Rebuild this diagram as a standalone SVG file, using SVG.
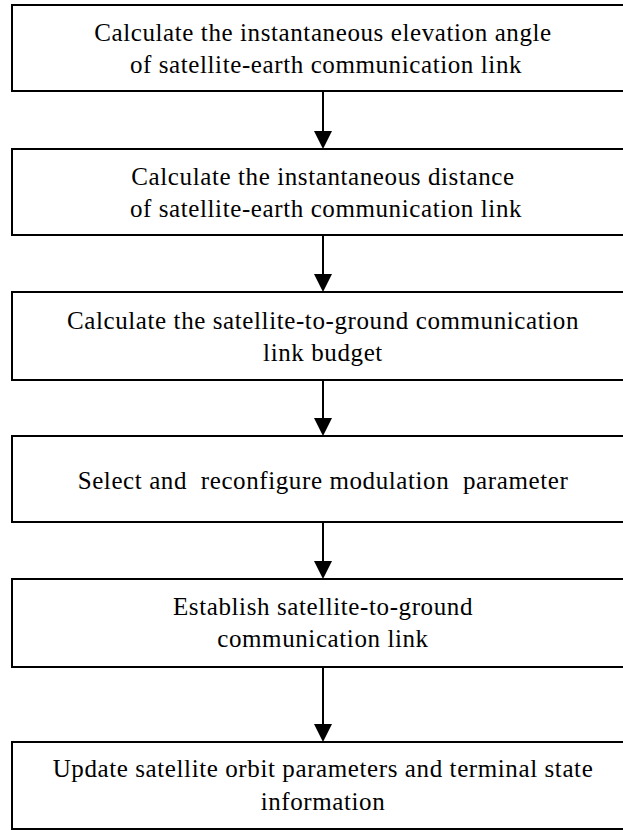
<svg xmlns="http://www.w3.org/2000/svg" width="623" height="830" viewBox="0 0 623 830">
<style>
.box{fill:#fff;stroke:#000;stroke-width:2}
.lbl{font-family:"Liberation Serif","Times New Roman",serif;font-size:25px;letter-spacing:0.6px;fill:#000;text-anchor:middle;white-space:pre}
.conn{stroke:#000;stroke-width:2;fill:none;marker-end:url(#ah)}
</style>
<defs>
<marker id="ah" markerUnits="userSpaceOnUse" markerWidth="18" markerHeight="18" refX="0" refY="9" orient="auto" viewBox="0 0 18 18">
<path d="M0,0 L18,9 L0,18 z" fill="#000"/>
</marker>
</defs>
<rect width="623" height="830" fill="#fff"/>
<g id="n1"><rect class="box" x="12" y="5" width="622" height="86"/>
<text class="lbl" x="323" y="41">Calculate the instantaneous elevation angle</text>
<text class="lbl" x="326" y="73">of satellite-earth communication link</text></g>
<g id="n2"><rect class="box" x="12" y="149" width="622" height="86"/>
<text class="lbl" x="323" y="185">Calculate the instantaneous distance</text>
<text class="lbl" x="326" y="217">of satellite-earth communication link</text></g>
<g id="n3"><rect class="box" x="12" y="292" width="622" height="88"/>
<text class="lbl" x="323" y="329">Calculate the satellite-to-ground communication</text>
<text class="lbl" x="323" y="361">link budget</text></g>
<g id="n4"><rect class="box" x="12" y="436" width="622" height="86"/>
<text class="lbl" x="323" y="489" xml:space="preserve">Select and  reconfigure modulation  parameter</text></g>
<g id="n5"><rect class="box" x="12" y="579" width="622" height="88"/>
<text class="lbl" x="323" y="615">Establish satellite-to-ground</text>
<text class="lbl" x="323" y="647">communication link</text></g>
<g id="n6"><rect class="box" x="12" y="742" width="622" height="87"/>
<text class="lbl" x="323" y="777">Update satellite orbit parameters and terminal state</text>
<text class="lbl" x="323" y="810">information</text></g>
<g id="connectors">
<path class="conn" d="M323,91 V131"/>
<path class="conn" d="M323,235 V274"/>
<path class="conn" d="M323,380 V418"/>
<path class="conn" d="M323,522 V561"/>
<path class="conn" d="M323,667 V724"/>
</g>
</svg>
